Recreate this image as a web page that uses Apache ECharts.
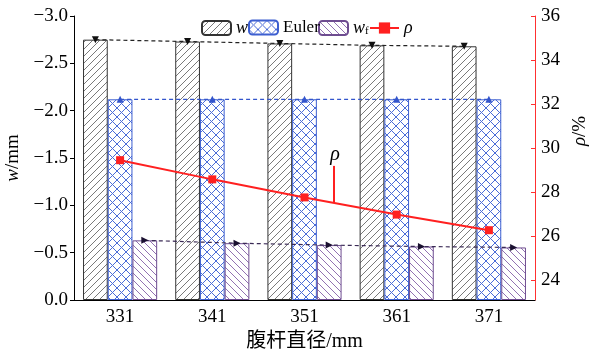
<!DOCTYPE html>
<html>
<head>
<meta charset="utf-8">
<script src="https://cdn.jsdelivr.net/npm/echarts@6/dist/echarts.min.js"></script>
<style>
  html, body { margin: 0; padding: 0; background: #fff; }
  #chart { width: 591px; height: 352px; }
</style>
</head>
<body>
<div id="chart"></div>
<script>
// Web-member diameter (mm) and the resulting deflections / ratio
const categories = ['331', '341', '351', '361', '371'];
const wValues = [-2.75, -2.73, -2.71, -2.69, -2.68];
const eulerValues = [-2.12, -2.12, -2.12, -2.12, -2.12];
const wfValues = [-0.63, -0.60, -0.58, -0.565, -0.555];
const rhoValues = [29.45, 28.58, 27.76, 26.98, 26.27];
const rhoTicks = [24, 26, 28, 30, 32, 34, 36];

const SERIF = '"Liberation Serif", "Times New Roman", serif';
const CJK = '"Liberation Serif", "Noto Sans CJK SC", serif';

// share of a category band taken by one bar (three bars side by side)
const BAR_SHARE = 0.268;

// hatch fill tiles for the bars
function hatch(size, lineColor, dirs, lw) {
  const c = document.createElement('canvas');
  c.width = size; c.height = size;
  const g = c.getContext('2d');
  g.fillStyle = '#fff';
  g.fillRect(0, 0, size, size);
  g.strokeStyle = lineColor;
  g.lineWidth = lw;
  for (const d of dirs) {
    for (let k = -1; k <= 1; k++) {
      g.beginPath();
      if (d === '/') { g.moveTo(k * size, size); g.lineTo(k * size + size, 0); }
      else { g.moveTo(k * size, 0); g.lineTo(k * size + size, size); }
      g.stroke();
    }
  }
  return { image: c, repeat: 'repeat' };
}

const minusFmt = v => v.toFixed(1).replace('-', '\u2212');

const legendText = {
  fontFamily: SERIF, fontSize: 17, color: '#000',
  rich: {
    i: { fontFamily: SERIF, fontSize: 18, fontStyle: 'italic', color: '#000' },
    s: { fontFamily: SERIF, fontSize: 11, color: '#000', padding: [7, 0, 0, 0] }
  }
};
const legendLabel = name => {
  if (name === 'w') return '{i|w}';
  if (name === 'wf') return '{i|w}{s|f}';
  if (name === 'ρ') return '{i|ρ}';
  return name;
};
// one legend block per entry so each sits at its own spot in the key row
const legendSpec = [['w', 201], ['Euler', 248], ['wf', 318], ['ρ', 369]];

const chart = echarts.init(document.getElementById('chart'), null, { renderer: 'canvas' });

const option = {
  animation: false,
  backgroundColor: '#fff',
  grid: { left: 74, right: 56, top: 16, bottom: 52, containLabel: false, outerBoundsMode: 'none' },
  legend: legendSpec.map(([name, left], k) => ({
    data: [name],
    left: left,
    top: 19,
    padding: 0,
    z: 10 - k,
    itemWidth: 29,
    itemHeight: 14,
    formatter: legendLabel,
    textStyle: legendText
  })),
  xAxis: [
    {
      type: 'category',
      data: categories,
      axisLine: { onZero: false, lineStyle: { color: '#000', width: 1 } },
      axisTick: { show: false },
      axisLabel: { fontFamily: SERIF, fontSize: 19, color: '#000', margin: 8 },
      splitLine: { show: false },
      name: '腹杆直径/mm',
      nameLocation: 'middle',
      nameGap: 30,
      nameTextStyle: { fontFamily: CJK, fontSize: 20, color: '#000' }
    },
    { type: 'value', min: -0.5, max: 4.5, show: false, axisLine: { onZero: false } }
  ],
  yAxis: [
    {
      type: 'value',
      min: -3, max: 0, interval: 0.5,
      inverse: true,
      axisLine: { show: true, onZero: false, lineStyle: { color: '#000', width: 1 } },
      axisTick: { show: true, inside: false, length: 4, lineStyle: { color: '#000' } },
      axisLabel: { formatter: minusFmt, fontFamily: SERIF, fontSize: 19, color: '#000', margin: 6 },
      splitLine: { show: false },
      name: '{i|w}/mm',
      nameLocation: 'middle',
      nameGap: 46,
      nameTextStyle: {
        fontFamily: SERIF, fontSize: 19, color: '#000',
        rich: { i: { fontFamily: SERIF, fontSize: 19, fontStyle: 'italic', color: '#000' } }
      }
    },
    {
      type: 'value',
      position: 'right',
      min: 23.1, max: 36,
      axisLine: { show: true, onZero: false, lineStyle: { color: '#ff3030', width: 1 } },
      axisTick: { show: true, inside: true, length: 4, customValues: rhoTicks, lineStyle: { color: '#ff3030' } },
      axisLabel: { customValues: rhoTicks, fontFamily: SERIF, fontSize: 19, color: '#000', margin: 6 },
      splitLine: { show: false },
      name: '{i|ρ}/%',
      nameLocation: 'middle',
      nameRotate: 90,
      nameGap: 30,
      nameTextStyle: {
        fontFamily: SERIF, fontSize: 19, color: '#000', padding: [0, 0, 0, 54],
        rich: { i: { fontFamily: SERIF, fontSize: 19, fontStyle: 'italic', color: '#000' } }
      }
    }
  ],
  series: [
    {
      name: 'w', type: 'bar', data: wValues,
      barWidth: (BAR_SHARE * 100) + '%', barGap: '0%',
      itemStyle: { color: hatch(7, '#7a7a7a', ['/'], 1), borderColor: '#333', borderWidth: 1 }
    },
    {
      name: 'Euler', type: 'bar', data: eulerValues,
      barWidth: (BAR_SHARE * 100) + '%', barGap: '0%',
      itemStyle: { color: hatch(9, '#4a6cd8', ['/', '\\'], 1), borderColor: '#3d5fd0', borderWidth: 1 }
    },
    {
      name: 'wf', type: 'bar', data: wfValues,
      barWidth: (BAR_SHARE * 100) + '%', barGap: '0%',
      itemStyle: { color: hatch(7, '#9272b2', ['\\'], 1), borderColor: '#6e4c90', borderWidth: 1 }
    },
    {
      name: 'w-trend', type: 'line', xAxisIndex: 1, yAxisIndex: 0,
      data: wValues.map((v, i) => [i - BAR_SHARE, v]),
      symbol: 'triangle', symbolRotate: 180, symbolSize: 7,
      itemStyle: { color: '#111' },
      lineStyle: { color: '#222', width: 1.2, type: [4, 3] },
      z: 3
    },
    {
      name: 'Euler-trend', type: 'line', xAxisIndex: 1, yAxisIndex: 0,
      data: eulerValues.map((v, i) => [i, v]),
      symbol: 'triangle', symbolSize: 7,
      itemStyle: { color: '#3355cc' },
      lineStyle: { color: '#3355cc', width: 1.2, type: [4, 3] },
      z: 3
    },
    {
      name: 'wf-trend', type: 'line', xAxisIndex: 1, yAxisIndex: 0,
      data: wfValues.map((v, i) => [i + BAR_SHARE, v]),
      symbol: 'triangle', symbolRotate: -90, symbolSize: 7,
      itemStyle: { color: '#1a1030' },
      lineStyle: { color: '#3a2a55', width: 1.2, type: [4, 3] },
      z: 3
    },
    {
      name: 'ρ', type: 'line', xAxisIndex: 0, yAxisIndex: 1,
      data: rhoValues,
      symbol: 'rect', symbolSize: 8,
      itemStyle: { color: '#ff2020' },
      lineStyle: { color: '#ff2020', width: 2 },
      z: 4
    }
  ]
};

chart.setOption(option);

// callout for the ρ curve, pinned to a point on the line between 351 and 361
const calloutIdx = 2.32;
const i0 = Math.floor(calloutIdx), t = calloutIdx - i0;
const rhoAt = rhoValues[i0] + (rhoValues[i0 + 1] - rhoValues[i0]) * t;
const px = chart.convertToPixel({ xAxisIndex: 1 }, calloutIdx);
const pyEnd = chart.convertToPixel({ yAxisIndex: 1 }, rhoAt);
const pyTop = pyEnd - 37;
chart.setOption({
  graphic: [
    {
      type: 'line', z: 10,
      shape: { x1: px, y1: pyTop, x2: px, y2: pyEnd },
      style: { stroke: '#ff2020', lineWidth: 2 }
    },
    {
      type: 'text', z: 10,
      x: px + 1, y: pyTop - 1,
      style: {
        text: 'ρ', fill: '#000', font: 'italic 20px ' + SERIF,
        align: 'center', verticalAlign: 'bottom'
      }
    }
  ]
});
</script>
</body>
</html>
